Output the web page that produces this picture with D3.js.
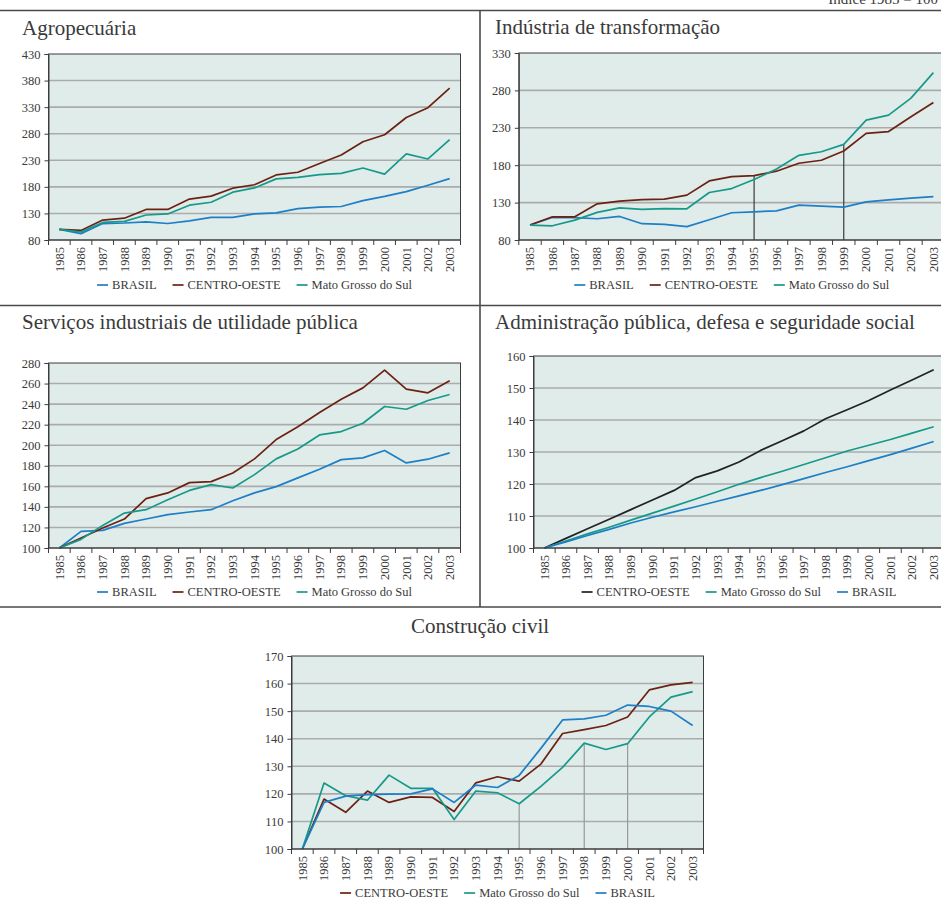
<!DOCTYPE html>
<html>
<head>
<meta charset="utf-8">
<script src="https://cdn.jsdelivr.net/npm/d3@7"></script>
<style>
  html, body { margin: 0; background: #fff; }
  svg { display: block; }
</style>
</head>
<body>
<svg id="chart" width="941" height="899"></svg>
<script>
// ---- Data: index 1985 = 100 ----
const years = ["1985","1986","1987","1988","1989","1990","1991","1992","1993","1994",
               "1995","1996","1997","1998","1999","2000","2001","2002","2003"];

// Agropecuária
const agroTicks  = [80, 130, 180, 230, 280, 330, 380, 430];
const agroBrasil = [100, 92, 111, 112, 114, 111, 116, 122.5, 122.5, 129, 131, 139, 142, 143, 154, 162, 171, 183, 195.5];
const agroCO     = [100, 98, 117.5, 121, 137.5, 137.5, 157, 162.5, 177.5, 184, 202.5, 207.5, 224, 240, 265, 278, 310.5, 329, 366];
const agroMS     = [100, 95, 113, 115, 127, 129, 145.5, 151, 170, 178, 195, 198, 203, 205.5, 215.5, 204, 242, 232.5, 269];

// Indústria de transformação
const indTicks  = [80, 130, 180, 230, 280, 330];
const indBrasil = [100, 110, 110, 108.4, 111.5, 101.8, 101, 97.8, 107, 116.4, 117.7, 119, 126.6, 125.3, 124, 131, 133.7, 136, 138];
const indCO     = [100, 111, 111, 128.4, 132, 134, 134.6, 140, 159, 164.8, 166, 172, 182.6, 186.6, 199, 222.5, 225, 244.7, 263.8];
const indMS     = [100, 99, 106.6, 116.9, 123, 120.9, 122, 121.7, 143.5, 148.8, 160.8, 175, 193.2, 198, 207.9, 240.3, 247, 269.6, 303.8];

// Serviços industriais de utilidade pública
const siupTicks  = [100, 120, 140, 160, 180, 200, 220, 240, 260, 280];
const siupBrasil = [100, 116.2, 117.2, 124, 128.2, 132.5, 135, 137.3, 146, 153.6, 159.7, 168.2, 176.6, 186, 187.7, 194.8, 182.8, 186.4, 192.5];
const siupCO     = [100, 109.7, 119.5, 128.2, 148, 153.6, 163.6, 164.6, 173, 186.7, 205.5, 217.9, 231.8, 244.8, 255.8, 273, 254.5, 251, 262.7];
const siupMS     = [100, 108.4, 122, 134, 137.3, 147, 156, 161.7, 158.4, 171.4, 186.7, 196.4, 210, 213.3, 221.4, 237.7, 235, 243.5, 249.4];

// Administração pública, defesa e seguridade social
const admTicks  = [100, 110, 120, 130, 140, 150, 160];
const admCO     = [100, 103, 106, 109, 112, 115, 118, 122, 124.1, 126.9, 130.5, 133.5, 136.6, 140.4, 143.2, 146.1, 149.4, 152.5, 155.7];
const admMS     = [100, 102.2, 104.4, 106.5, 108.7, 110.9, 113.1, 115.3, 117.6, 119.9, 122, 124, 126.1, 128.2, 130.3, 132.1, 133.9, 135.9, 137.9];
const admBrasil = [100, 101.9, 103.9, 105.8, 107.8, 109.6, 111.3, 112.9, 114.6, 116.3, 118, 119.8, 121.7, 123.6, 125.4, 127.3, 129.2, 131.2, 133.3];

// Construção civil
const constTicks  = [100, 110, 120, 130, 140, 150, 160, 170];
const constCO     = [100, 118.1, 113.3, 121, 116.9, 118.9, 118.7, 113.6, 124, 126.2, 124.6, 130.8, 141.9, 143.3, 144.8, 147.9, 157.7, 159.5, 160.4];
const constMS     = [100, 123.9, 119.3, 117.7, 126.8, 122, 122, 110.7, 121, 120.4, 116.4, 122.7, 129.6, 138.4, 136.1, 138.2, 147.9, 155.1, 157.1];
const constBrasil = [100, 116.9, 119.2, 119.7, 119.9, 120, 121.8, 116.9, 123.2, 122.3, 126.7, 136.5, 146.8, 147.2, 148.5, 152.2, 151.7, 150, 144.8];

// ---- Styling ----
const FONT = "Liberation Serif";
const TEXT = "#3a3a3a";
const BLUE = "#1e7ec6", BROWN = "#6c2212", TEAL = "#17998a", BLACK = "#222222";
const PLOT_BG = "#dfecea", GRID = "#ababab", AXIS = "#3d3d3d", FRAME = "#4a4a4a";

const panels = [
  { title: "Agropecuária", tx: 22, ty: 35, anchor: "start",
    box: { l: 48.5, r: 460.5, t: 54, b: 240 }, ticks: agroTicks, legendY: 285,
    series: [ { name: "BRASIL", values: agroBrasil, color: BLUE },
              { name: "CENTRO-OESTE", values: agroCO, color: BROWN },
              { name: "Mato Grosso do Sul", values: agroMS, color: TEAL } ],
    drops: [] },
  { title: "Indústria de transformação", tx: 495, ty: 34, anchor: "start",
    box: { l: 518.8, r: 944.6, t: 53, b: 240 }, ticks: indTicks, legendY: 285,
    series: [ { name: "BRASIL", values: indBrasil, color: BLUE },
              { name: "CENTRO-OESTE", values: indCO, color: BROWN },
              { name: "Mato Grosso do Sul", values: indMS, color: TEAL } ],
    drops: [ { year: "1995", series: "CENTRO-OESTE", color: "#3a3a3a" },
             { year: "1999", series: "Mato Grosso do Sul", color: "#3a3a3a" } ] },
  { title: "Serviços industriais de utilidade pública", tx: 22, ty: 329, anchor: "start",
    box: { l: 48.5, r: 460.5, t: 363, b: 548 }, ticks: siupTicks, legendY: 592,
    series: [ { name: "BRASIL", values: siupBrasil, color: BLUE },
              { name: "CENTRO-OESTE", values: siupCO, color: BROWN },
              { name: "Mato Grosso do Sul", values: siupMS, color: TEAL } ],
    drops: [] },
  { title: "Administração pública, defesa e seguridade social", tx: 495, ty: 329, anchor: "start",
    box: { l: 533.5, r: 944.5, t: 356, b: 548 }, ticks: admTicks, legendY: 592,
    series: [ { name: "CENTRO-OESTE", values: admCO, color: BLACK },
              { name: "Mato Grosso do Sul", values: admMS, color: TEAL },
              { name: "BRASIL", values: admBrasil, color: BLUE } ],
    drops: [] },
  { title: "Construção civil", tx: 480, ty: 633, anchor: "middle",
    box: { l: 291.5, r: 703.5, t: 656, b: 849 }, ticks: constTicks, legendY: 893,
    series: [ { name: "CENTRO-OESTE", values: constCO, color: BROWN },
              { name: "Mato Grosso do Sul", values: constMS, color: TEAL },
              { name: "BRASIL", values: constBrasil, color: BLUE } ],
    drops: [ { year: "1995", series: "Mato Grosso do Sul", color: "#9a9a9a" },
             { year: "1998", series: "Mato Grosso do Sul", color: "#9a9a9a" },
             { year: "2000", series: "Mato Grosso do Sul", color: "#9a9a9a" } ] }
];

const svg = d3.select("#chart");

// text helper: every label uses the same serif face
function label(sel, size) {
  return sel.style("font-family", FONT).style("font-size", size + "px").attr("fill", TEXT);
}

// Page frame: rules separating the panels
const frame = svg.append("g").attr("stroke", FRAME).attr("stroke-width", 1.6);
frame.append("line").attr("x1", 0).attr("x2", 941).attr("y1", 10.5).attr("y2", 10.5);
frame.append("line").attr("x1", 0).attr("x2", 941).attr("y1", 305.5).attr("y2", 305.5);
frame.append("line").attr("x1", 0).attr("x2", 941).attr("y1", 607).attr("y2", 607);
frame.append("line").attr("x1", 480).attr("x2", 480).attr("y1", 10.5).attr("y2", 607);

// Unit note at the top right
label(svg.append("text").attr("x", 938).attr("y", 4).attr("text-anchor", "end"), 15)
  .text("Índice 1985 = 100");

panels.forEach(p => {
  const g = svg.append("g");
  const { l, r, t, b } = p.box;

  const x = d3.scaleBand().domain(years).range([l, r]).padding(0);
  const y = d3.scaleLinear().domain(d3.extent(p.ticks)).range([b, t]);
  const cx = d => x(d) + x.bandwidth() / 2;

  // title
  label(g.append("text").attr("x", p.tx).attr("y", p.ty).attr("text-anchor", p.anchor), 21)
    .text(p.title);

  // plot background
  g.append("rect").attr("x", l).attr("y", t).attr("width", r - l).attr("height", b - t)
    .attr("fill", PLOT_BG);

  // horizontal gridlines
  g.append("g").selectAll("line").data(p.ticks.slice(1, -1)).join("line")
    .attr("x1", l).attr("x2", r).attr("y1", d => y(d)).attr("y2", d => y(d))
    .attr("stroke", GRID).attr("stroke-width", 1.6);

  // drop lines from chosen points to the category axis
  p.drops.forEach(dl => {
    const s = p.series.find(s => s.name === dl.series);
    const v = s.values[years.indexOf(dl.year)];
    g.append("line").attr("x1", cx(dl.year)).attr("x2", cx(dl.year))
      .attr("y1", y(v)).attr("y2", b)
      .attr("stroke", dl.color).attr("stroke-width", 1.2);
  });

  // series lines
  const line = d3.line().x((d, i) => cx(years[i])).y(d => y(d));
  p.series.forEach(s => {
    g.append("path").datum(s.values).attr("d", line)
      .attr("fill", "none").attr("stroke", s.color).attr("stroke-width", 1.7)
      .attr("stroke-linejoin", "round");
  });

  // plot border
  g.append("rect").attr("x", l).attr("y", t).attr("width", r - l).attr("height", b - t)
    .attr("fill", "none").attr("stroke", AXIS).attr("stroke-width", 1);

  // y axis
  const yAxis = d3.axisLeft(y).tickValues(p.ticks).tickSize(4).tickPadding(4)
    .tickFormat(d3.format("d"));
  const ya = g.append("g").attr("transform", `translate(${l},0)`).call(yAxis);
  ya.attr("font-family", null).attr("font-size", null);
  ya.select(".domain").attr("stroke", AXIS);
  ya.selectAll(".tick line").attr("stroke", AXIS);
  label(ya.selectAll(".tick text"), 12.5);

  // x axis: tick marks at category boundaries, labels rotated
  const bounds = years.map(d => x(d)).concat([r]);
  g.append("g").selectAll("line").data(bounds).join("line")
    .attr("x1", d => d).attr("x2", d => d).attr("y1", b).attr("y2", b + 5)
    .attr("stroke", AXIS).attr("stroke-width", 1);
  g.append("line").attr("x1", l).attr("x2", r).attr("y1", b).attr("y2", b)
    .attr("stroke", AXIS).attr("stroke-width", 1.2);
  label(g.append("g").selectAll("text").data(years).join("text")
    .attr("transform", d => `translate(${cx(d)},${b + 7}) rotate(-90)`)
    .attr("text-anchor", "end").attr("dy", "0.34em"), 12.5)
    .text(d => d);

  // legend, centred under the plot
  const lg = g.append("g");
  const items = p.series.map(s => {
    const it = lg.append("g");
    it.append("line").attr("x1", 0).attr("x2", 11).attr("y1", 0).attr("y2", 0)
      .attr("stroke", s.color).attr("stroke-width", 1.7);
    const tx = label(it.append("text").attr("x", 15).attr("y", 0).attr("dy", "0.34em"), 12.5)
      .text(s.name);
    return { it, w: 15 + tx.node().getComputedTextLength() };
  });
  const gap = 16;
  const total = d3.sum(items, d => d.w) + gap * (items.length - 1);
  let cur = (l + r) / 2 - total / 2;
  items.forEach(d => {
    d.it.attr("transform", `translate(${cur},${p.legendY})`);
    cur += d.w + gap;
  });
});
</script>
</body>
</html>
